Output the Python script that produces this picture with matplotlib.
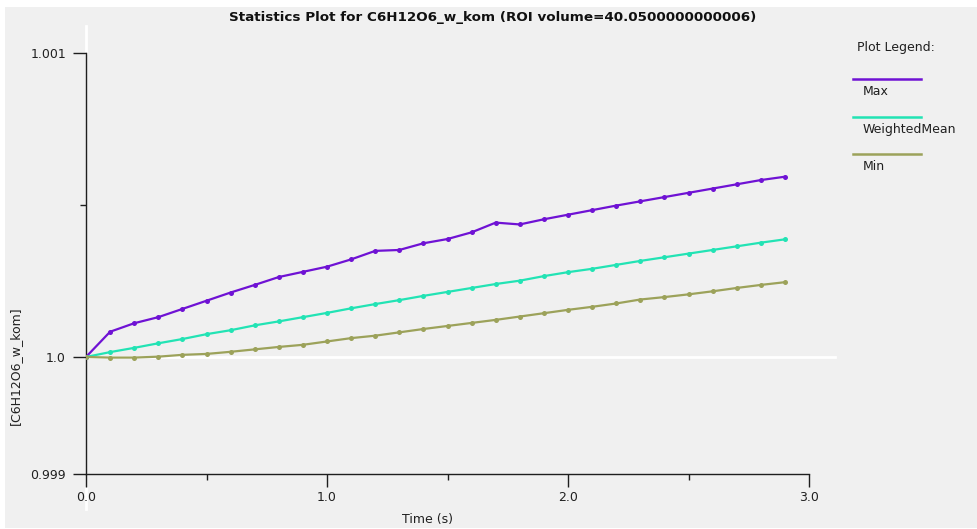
import numpy as np
import matplotlib
matplotlib.use('Agg')
import matplotlib.pyplot as plt
from matplotlib.lines import Line2D
from matplotlib.patches import Rectangle

# values
time = [0.0, 0.1, 0.2, 0.3, 0.4, 0.5, 0.6, 0.7, 0.8, 0.9,
        1.0, 1.1, 1.2, 1.3, 1.4, 1.5, 1.6, 1.7, 1.8, 1.9,
        2.0, 2.1, 2.2, 2.3, 2.4, 2.5, 2.6, 2.7, 2.8, 2.9]

max_vals = [1.000000, 1.000083, 1.000111, 1.000131, 1.000158, 1.000185,
            1.000212, 1.000237, 1.000263, 1.000280, 1.000297, 1.000321,
            1.000349, 1.000352, 1.000374, 1.000388, 1.000410, 1.000442,
            1.000436, 1.000453, 1.000468, 1.000483, 1.000498, 1.000512,
            1.000526, 1.000540, 1.000554, 1.000568, 1.000582, 1.000593]

wmean_vals = [1.000000, 1.000016, 1.000030, 1.000045, 1.000059, 1.000075,
              1.000088, 1.000104, 1.000117, 1.000131, 1.000145, 1.000160,
              1.000174, 1.000187, 1.000201, 1.000214, 1.000227, 1.000240,
              1.000251, 1.000266, 1.000279, 1.000290, 1.000303, 1.000316,
              1.000328, 1.000340, 1.000352, 1.000364, 1.000376, 1.000387]

min_vals = [1.000000, 0.999998, 0.999998, 1.000001, 1.000007, 1.000010,
            1.000017, 1.000025, 1.000033, 1.000040, 1.000051, 1.000062,
            1.000070, 1.000081, 1.000092, 1.000102, 1.000112, 1.000122,
            1.000133, 1.000144, 1.000155, 1.000165, 1.000176, 1.000189,
            1.000197, 1.000206, 1.000216, 1.000227, 1.000237, 1.000246]

series_names = ['Max', 'WeightedMean', 'Min']
series_colors = ['#6f12d4', '#22e3b4', '#9ca25a']

ytick_vals = [0.999615, 1.0, 1.001]
ytick_labels = ['0.999', '1.0', '1.001']
xtick_vals = [0.0, 1.0, 2.0, 3.0]
xtick_labels = ['0.0', '1.0', '2.0', '3.0']

W, H = 977, 529
bg = '#f0f0f0'
axcol = '#1e1e1e'


def fx(x):
    return x / W


def fy(y):
    return 1 - y / H


fig = plt.figure(figsize=(W / 100, H / 100), dpi=100, facecolor='white')
fig.add_artist(Rectangle((fx(5), 0.002), 1 - fx(5), fy(7) - 0.002,
                         transform=fig.transFigure, facecolor=bg, edgecolor='none', zorder=-10))

ax = fig.add_axes([fx(86), fy(474), 723 / W, 421 / H])
ax.set_facecolor(bg)
ax.patch.set_alpha(0)

# white reference line at 1.0 running past the plot area
ax.axhline(1.0, xmin=0, xmax=(835 - 86) / 723, color='white', lw=2, clip_on=False, zorder=1)

for vals, name, col in zip([max_vals, wmean_vals, min_vals], series_names, series_colors):
    ax.plot(time, vals, color=col, lw=1.6, marker='o', markersize=3.6,
            markeredgewidth=0, zorder=3, label=name)

ax.set_xlim(0, 3.0)
ax.set_ylim(ytick_vals[0], ytick_vals[-1])

for s in ['top', 'right']:
    ax.spines[s].set_visible(False)
for s in ['left', 'bottom']:
    ax.spines[s].set_color(axcol)
    ax.spines[s].set_linewidth(1.0)

ax.set_xticks(xtick_vals)
ax.set_xticklabels(xtick_labels)
ax.set_xticks([0.5, 1.5, 2.5], minor=True)
ax.set_yticks(ytick_vals)
ax.set_yticklabels(ytick_labels)
ax.set_yticks([1.0005], minor=True)

ax.tick_params(which='major', length=9.4, width=1.0, color=axcol, labelsize=9,
               labelcolor='#202020', direction='out')
ax.tick_params(which='minor', length=4.3, width=1.0, color=axcol, direction='out')
ax.tick_params(axis='y', pad=5)
ax.tick_params(axis='x', pad=3)

# white ends of the y axis line
ax.axvline(0, ymin=1, ymax=1 + 27 / 421, color='white', lw=2, clip_on=False, zorder=0.5)
ax.axvline(0, ymin=-35 / 421, ymax=-14 / 421, color='white', lw=2, clip_on=False, zorder=0.5)

fig.text(fx(493), fy(17), 'Statistics Plot for C6H12O6_w_kom (ROI volume=40.0500000000006)',
         ha='center', va='center', fontsize=9.7, fontweight='bold', color='#101010')
fig.text(fx(428), fy(519), 'Time (s)', ha='center', va='center', fontsize=9, color='#202020')
fig.text(fx(15), fy(366), '[C6H12O6_w_kom]', ha='center', va='center', rotation=90,
         fontsize=9, color='#202020')

# legend: line above each label
fig.text(fx(857), fy(48), 'Plot Legend:', ha='left', va='center', fontsize=9, color='#202020')
for i, (name, col) in enumerate(zip(series_names, series_colors)):
    ly = 79.3 + i * 37.5
    fig.add_artist(Line2D([fx(853), fx(921)], [fy(ly), fy(ly)], color=col, lw=1.8,
                          transform=fig.transFigure))
    fig.text(fx(863), fy(ly + 12.5), name, ha='left', va='center', fontsize=9, color='#202020')

fig.savefig('out.png', dpi=100, facecolor=fig.get_facecolor())
